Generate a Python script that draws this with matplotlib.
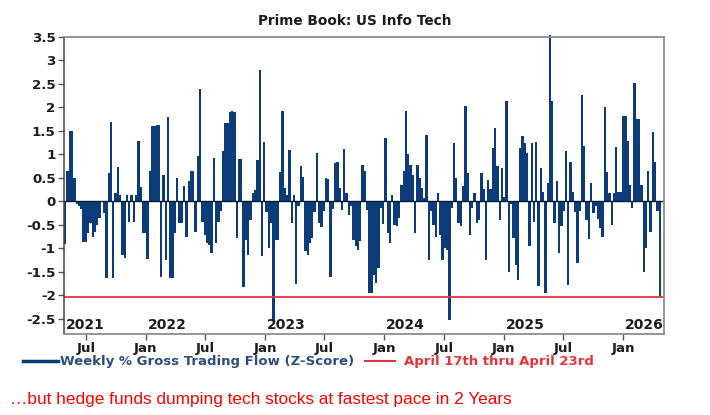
import numpy as np
import pandas as pd
import matplotlib
matplotlib.use("Agg")
import matplotlib.pyplot as plt
from matplotlib.lines import Line2D

# weekly z-scores, one list per calendar year (weeks ending Thursday)
flow_2021 = [-0.9, 0.64, 1.5, 1.5, 0.5, -0.05, -0.1, -0.15, -0.87, -0.87,
             -0.67, -0.46, -0.76, -0.64, -0.5, -0.35, -0.02, -0.25, -1.63, 0.6,
             1.69, -1.63, 0.18, 0.73, 0.14, -1.13, -1.2, 0.14, -0.43, 0.14,
             -0.43, 0.14, 1.28, 0.3, -0.67, -0.67]
flow_2022 = [-1.23, 0.64, 1.6, 1.6, 1.62, 1.62, -1.6, 0.57, -1.24, 1.8,
             -1.63, -1.63, -0.68, 0.5, -0.46, -0.46, 0.32, -0.75, 0.43, 0.64,
             0.64, -0.64, 0.96, 2.4, -0.43, -0.71, -0.89, -0.92, -1.1, 0.92,
             -0.89, -0.43, -0.21, 1.07, 1.66, 1.67, 1.9, 1.92, 1.9, -0.78,
             0.9, 0.9, -1.81, -0.83, -1.13, -0.4, 0.18, 0.25, 0.89, 2.8,
             -1.16, 1.26]
flow_2023 = [-0.23, -1.0, -0.45, -2.55, -0.82, -0.82, 0.62, 1.92, 0.28, 0.14,
             1.1, -0.46, 0.14, -1.76, -0.1, 0.76, 0.53, -1.05, -1.13, -0.89,
             -0.78, -0.23, 1.03, -0.46, -0.55, -0.21, 0.5, 0.48, -1.6, -0.15,
             0.82, 0.85, 0.28, -0.18, 1.12, 0.19, -0.28, -0.1, -0.82, -0.95,
             -1.03, -0.85, 0.78, 0.64, -0.18, -1.95, -1.95, -1.56, -1.74, -1.42,
             -0.14, -0.48]
flow_2024 = [1.35, -0.68, -0.89, 0.14, -0.5, -0.53, -0.36, 0.36, 0.64, 1.93,
             1.0, 0.78, 0.57, -0.68, 0.78, 0.5, 0.28, 0.07, 1.42, -1.24,
             -0.21, -0.5, -0.75, 0.18, -0.71, -1.24, -1.0, -1.03, -2.52, -0.14,
             1.24, 0.5, -0.46, -0.53, 0.32, 2.03, 0.6, -0.71, -0.14, 0.18,
             -0.46, -0.39, 0.6, 0.26, -1.24, 0.46, 0.26, 1.14, 1.56, 0.75,
             -0.39, 0.71]
flow_2025 = [0.1, 2.13, -1.51, -0.05, -0.78, -1.35, -1.67, 1.14, 1.4, 1.24,
             1.03, -0.95, 1.24, -0.43, 1.26, -1.8, 0.71, 0.21, -1.94, 0.39,
             3.55, 2.13, -0.46, 0.43, -1.09, -0.53, -0.21, 1.07, -1.78, 0.85,
             0.21, -0.23, -1.3, -0.2, 2.27, 1.17, -0.39, -0.8, 0.39, -0.25,
             -0.1, -0.38, -0.57, -0.75, 2.01, 0.62, 0.19, -0.5, 0.18, 1.16,
             0.21, 0.21]
flow_2026 = [1.81, 1.81, 1.28, 0.36, -0.14, 2.52, 1.76, 1.76, 0.36, -1.51,
             -1.0, 0.64, -0.64, 1.47, 0.85, -0.2, -2.03]

last_week = "2026-04-23"
years = [2021, 2022, 2023, 2024, 2025, 2026]
y_ticks = [3.5, 3, 2.5, 2, 1.5, 1, 0.5, 0, -0.5, -1, -1.5, -2, -2.5]

title = "Prime Book: US Info Tech"
series_label = "Weekly % Gross Trading Flow (Z-Score)"
marker_label = "April 17th thru April 23rd"
caption = "\u2026but hedge funds dumping tech stocks at fastest pace in 2 Years"

bar_blue = "#0c3b79"
line_red = "#e8323a"
ink = "#1c1c1c"

flow = np.array(flow_2021 + flow_2022 + flow_2023 + flow_2024 + flow_2025 + flow_2026)
weeks = pd.date_range(end=last_week, periods=len(flow), freq="7D")

plt.rcParams["font.family"] = ["DejaVu Sans"]

fig = plt.figure(figsize=(7.1, 4.15), dpi=100)
ax = fig.add_axes([64 / 710, 1 - 334 / 415, 600 / 710, 297 / 415])

ax.bar(weeks, flow, width=7, color=bar_blue, linewidth=0, clip_on=False)
ax.axhline(0, color="#0a1a33", lw=1.0)
ax.axhline(flow[-1], color=line_red, lw=1.3)

x_left = pd.Timestamp("2021-04-25")
ax.set_xlim(x_left, pd.Timestamp("2026-05-06"))
ax.set_ylim(-2.82, 3.5)

ax.set_yticks(y_ticks)
ax.set_yticklabels([f"{v:g}" for v in y_ticks])

half_years = []
for y in years:
    if y > 2021:
        half_years.append((pd.Timestamp(f"{y}-01-01"), "Jan"))
    if pd.Timestamp(f"{y}-07-01") < pd.Timestamp("2026-05-06"):
        half_years.append((pd.Timestamp(f"{y}-07-01"), "Jul"))
half_years.sort()
ax.set_xticks([d for d, _ in half_years])
ax.set_xticklabels([lab for _, lab in half_years])

ax.tick_params(axis="both", direction="out", length=4, width=1, colors="#555555",
               labelcolor=ink, labelsize=9.6)
for lab in ax.get_xticklabels() + ax.get_yticklabels():
    lab.set_fontweight("bold")
ax.tick_params(axis="x", pad=1.5)
ax.tick_params(axis="y", pad=2)

for side in ["top", "right", "bottom"]:
    ax.spines[side].set_color("#8c8c8c")
    ax.spines[side].set_linewidth(1.3)
ax.spines["left"].set_color("#444444")
ax.spines["left"].set_linewidth(1.1)

for y in years:
    start = max(pd.Timestamp(f"{y}-01-01"), x_left)
    ax.text(start + pd.Timedelta(days=6), 0.006, str(y), transform=ax.get_xaxis_transform(),
            ha="left", va="bottom", fontsize=10, fontweight="bold", color=ink)

fig.text(355 / 710, 1 - 21 / 415, title, ha="center", va="center",
         fontsize=9.8, fontweight="bold", color=ink)

leg_y = 1 - 361 / 415
fig.add_artist(Line2D([23 / 710, 58 / 710], [leg_y, leg_y], color=bar_blue, lw=2.5))
fig.text(60 / 710, leg_y, series_label, ha="left", va="center",
         fontsize=9.5, fontweight="bold", color="#2b4c80")
fig.add_artist(Line2D([365 / 710, 395 / 710], [leg_y, leg_y], color=line_red, lw=1.5))
fig.text(404 / 710, leg_y, marker_label, ha="left", va="center",
         fontsize=9.5, fontweight="bold", color=line_red)

fig.text(10 / 710, 1 - 399 / 415, caption, ha="left", va="center",
         fontsize=12.4, family=["Liberation Sans", "DejaVu Sans"], color="#ff0000")

fig.savefig("out.png", dpi=100)
